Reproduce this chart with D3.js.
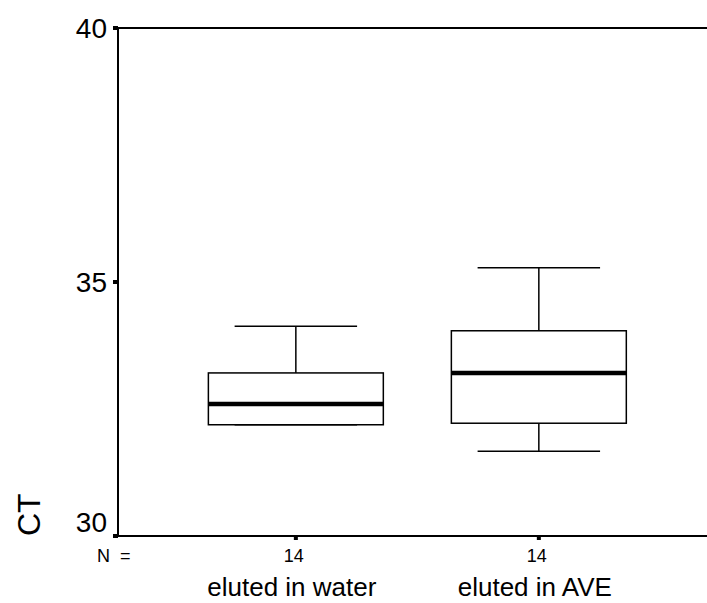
<!DOCTYPE html>
<html>
<head>
<meta charset="utf-8">
<script src="https://cdn.jsdelivr.net/npm/d3@7"></script>
<style>
  html, body { margin: 0; padding: 0; background: #fff; }
  svg { display: block; }
  text { font-family: "Liberation Sans", Arial, sans-serif; fill: #000; }
</style>
</head>
<body>
<svg id="chart" width="707" height="603"></svg>
<script>
// Groups and their five-number summaries (CT values)
const categories = ["eluted in water", "eluted in AVE"];
const counts = [14, 14];
const whiskerLow = [32.19, 31.67];
const q1 = [32.19, 32.22];
const median = [32.60, 33.21];
const q3 = [33.21, 34.04];
const whiskerHigh = [34.13, 35.28];
const yTicks = [30, 35, 40];

const svg = d3.select("#chart");
const plotLeft = 118, plotRight = 707, plotTop = 28, plotBottom = 536;

const y = d3.scaleLinear().domain([30, 40]).range([plotBottom, plotTop]);
const x = d3.scalePoint().domain(categories).range([plotLeft, plotRight]).padding(0.712).align(0.514);
const step = x.step();
const boxW = step * 0.72;
const capW = boxW * 0.70;

// Frame: left axis, bottom axis, top rule
svg.append("line").attr("x1", plotLeft).attr("x2", plotLeft).attr("y1", plotTop).attr("y2", plotBottom)
  .attr("stroke", "#000").attr("stroke-width", 2);
svg.append("line").attr("x1", plotLeft).attr("x2", plotRight).attr("y1", plotBottom).attr("y2", plotBottom)
  .attr("stroke", "#000").attr("stroke-width", 2);
svg.append("line").attr("x1", plotLeft - 3).attr("x2", plotRight).attr("y1", plotTop).attr("y2", plotTop)
  .attr("stroke", "#000").attr("stroke-width", 2);

// Y axis ticks and labels (the lowest label is lifted clear of the counts row)
const yAxis = svg.append("g");
yAxis.selectAll("rect.tick").data(yTicks).enter().append("rect")
  .attr("x", plotLeft - 5).attr("y", d => y(d) - 2).attr("width", 5).attr("height", 4).attr("fill", "#000");
yAxis.selectAll("text").data(yTicks).enter().append("text")
  .attr("x", plotLeft - 11).attr("y", d => Math.min(y(d) + 10, plotBottom - 4))
  .attr("text-anchor", "end").style("font-size", "28px").text(d => d);

// X axis ticks
svg.selectAll("rect.xtick").data(categories).enter().append("rect")
  .attr("x", d => x(d) - 2).attr("y", plotBottom).attr("width", 4).attr("height", 4).attr("fill", "#000");

// Counts row
svg.append("text").attr("x", 97).attr("y", 562).style("font-size", "18px")
  .style("white-space", "pre").text("N  =");
svg.selectAll("text.n").data(categories).enter().append("text")
  .attr("x", d => x(d) - 2).attr("y", 562).attr("text-anchor", "middle")
  .style("font-size", "18px").text((d, i) => counts[i]);

// Category labels
svg.selectAll("text.cat").data(categories).enter().append("text")
  .attr("x", d => x(d) - 4).attr("y", 596).attr("text-anchor", "middle")
  .style("font-size", "26px").text(d => d);

// Y title
svg.append("text").attr("transform", "translate(40,536) rotate(-90)")
  .style("font-size", "32px").text("CT");

// Boxes
const g = svg.selectAll("g.box").data(categories).enter().append("g");
g.each(function(d, i) {
  const sel = d3.select(this);
  const cx = x(d);
  // whiskers
  sel.append("line").attr("x1", cx).attr("x2", cx).attr("y1", y(q3[i])).attr("y2", y(whiskerHigh[i]))
    .attr("stroke", "#000").attr("stroke-width", 1.5);
  sel.append("line").attr("x1", cx - capW / 2).attr("x2", cx + capW / 2)
    .attr("y1", y(whiskerHigh[i])).attr("y2", y(whiskerHigh[i]))
    .attr("stroke", "#000").attr("stroke-width", 1.5);
  if (whiskerLow[i] < q1[i]) {
    sel.append("line").attr("x1", cx).attr("x2", cx).attr("y1", y(q1[i])).attr("y2", y(whiskerLow[i]))
      .attr("stroke", "#000").attr("stroke-width", 1.5);
  }
  sel.append("line").attr("x1", cx - capW / 2).attr("x2", cx + capW / 2)
    .attr("y1", y(whiskerLow[i])).attr("y2", y(whiskerLow[i]))
    .attr("stroke", "#000").attr("stroke-width", 1.5);
  // box
  sel.append("rect").attr("x", cx - boxW / 2).attr("width", boxW)
    .attr("y", y(q3[i])).attr("height", y(q1[i]) - y(q3[i]))
    .attr("fill", "#fff").attr("stroke", "#000").attr("stroke-width", 1.5);
  // median
  sel.append("line").attr("x1", cx - boxW / 2).attr("x2", cx + boxW / 2)
    .attr("y1", y(median[i])).attr("y2", y(median[i]))
    .attr("stroke", "#000").attr("stroke-width", 4.5);
});
</script>
</body>
</html>
